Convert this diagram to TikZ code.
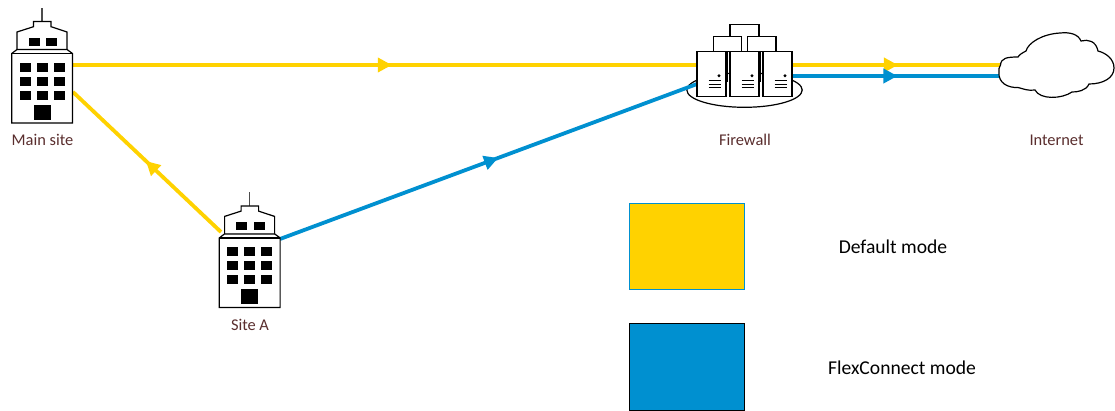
\documentclass[tikz,border=0pt]{standalone}
\usepackage{fontspec}
\setmainfont{Carlito}
\usetikzlibrary{arrows.meta,decorations.markings}
\definecolor{ylw}{HTML}{FFD200}
\definecolor{blu}{HTML}{0090D0}
\definecolor{lab}{HTML}{5A2E2E}
\tikzset{
  x=1pt,y=-1pt,
  flow/.style={line width=3.8pt,draw=#1},
  mid/.style={postaction={decorate},decoration={markings,mark=at position #1 with {\arrow{Triangle[length=14pt,width=14pt]}}}},
  lbl/.style={font=\fontsize{16.4}{19}\selectfont,text=lab,inner sep=0pt},
  leg/.style={font=\fontsize{19.6}{23}\selectfont,text=black,inner sep=0pt},
  legbox/.style={line width=0.8pt,minimum width=115.7pt,inner sep=0pt},
  outl/.style={draw=black,line width=1.2pt,fill=white,line join=miter},
  building/.pic={
    \draw[draw=black!70,line width=1.2pt] (42,8) -- (42,21.5);
    \draw[outl] (33.5,26.7) -- (33.5,21.5) -- (51,21.5) -- (51,26.7) -- (67,32) -- (67,50) -- (17,50) -- (17,32) -- cycle;
    \draw[outl] (11.7,123) -- (11.7,53.5) -- (17,49.5) -- (67,49.5) -- (72.5,53.5) -- (72.5,123) -- cycle;
    \draw[black,line width=1.6pt] (11.7,53.5) -- (72.5,53.5);
    \foreach \x in {28.5,46} \fill[black] (\x,37.5) rectangle ++(11,8.5);
    \foreach \x in {19.5,36.5,53.5} \foreach \y in {62.5,76.5,90.5} \fill[black] (\x,\y) rectangle ++(11,9);
    \fill[black] (33.7,104.5) rectangle ++(17,15);
  },
  server/.pic={
    \draw[outl] (0,0) rectangle (29,44.5);
    \fill[black] (22,24) circle (1.6);
    \foreach \y in {29,32.5,36} \draw[black,line width=0.8pt] (11.5,\y) -- (24,\y);
  }
}
\begin{document}
\begin{tikzpicture}
\useasboundingbox[fill=white] (0,0) rectangle (1115,410);
% anchor coordinates
\coordinate (mainE) at (73,65);
\coordinate (mainSE) at (73,92);
\coordinate (siteNW) at (221,232);
\coordinate (siteE) at (280,239);
\coordinate (fwW) at (697,65);
\coordinate (fwSW) at (697,84);
\coordinate (fwEa) at (792,65);
\coordinate (fwEb) at (792,76);
\coordinate (netA) at (1001,65);
\coordinate (netB) at (1000,76);
% firewall base
\draw[outl] (744.5,90) ellipse (57.7 and 17.3);
% connectors
\draw[flow=ylw,color=ylw,mid=0.511] (mainE) -- (fwW);
\draw[flow=ylw,color=ylw,mid=0.507] (siteNW) -- (mainSE);
\draw[flow=blu,color=blu,mid=0.523] (siteE) -- (fwSW);
\draw[flow=ylw,color=ylw,mid=0.507] (fwEa) -- (netA);
\draw[flow=blu,color=blu,mid=0.507] (fwEb) -- (netB);
% buildings
\pic (bmain) at (0,0) {building};
\pic (bsite) at (207.6,184.4) {building};
% firewall
\draw[outl] (730,24.3) rectangle (759,51.7);
\draw[outl] (713.3,36.7) rectangle (741.7,51.7);
\draw[outl] (747.3,36.7) rectangle (776,51.7);
\draw[black,line width=2.4pt] (727,51.7) -- (727,82);
\draw[black,line width=2.4pt] (760,51.7) -- (760,82);
\pic (s1) at (697,51.7) {server};
\pic (s2) at (730,51.7) {server};
\pic (s3) at (763,51.7) {server};
% cloud
\draw[outl] (1000.5,65) .. controls (1001,58) and (1007,57) .. (1018,57)
  .. controls (1019,55) and (1022,53) .. (1026,51)
  .. controls (1028,43) and (1042,34) .. (1060,33)
  .. controls (1070,32) and (1078,34) .. (1081,41)
  .. controls (1088,39) and (1096,41) .. (1098,51)
  .. controls (1106,53) and (1114,59) .. (1114,68)
  .. controls (1114,78) and (1103,84) .. (1089,84)
  .. controls (1086,91) and (1077,92) .. (1072,92)
  .. controls (1062,99) and (1040,100) .. (1035,90)
  .. controls (1028,91) and (1024,89) .. (1018,87.5)
  .. controls (1008,88) and (998,83) .. (999,72)
  .. controls (998.5,70) and (999,67) .. (1000.5,65) -- cycle;
% labels
\node[lbl] (t1) at (42.5,140) {Main site};
\node[lbl] (t2) at (250,325) {Site A};
\node[lbl] (t3) at (745,140) {Firewall};
\node[lbl] (t4) at (1056.5,140) {Internet};
% legend
\node[legbox,draw=blu,fill=ylw,minimum height=86.7pt] (k1) at (687,246.3) {};
\node[legbox,draw=black,fill=blu,minimum height=86.5pt] (k2) at (687,367) {};
\node[leg] (l1) at (893,247) {Default mode};
\node[leg] (l2) at (902,368) {FlexConnect mode};
\end{tikzpicture}
\end{document}
